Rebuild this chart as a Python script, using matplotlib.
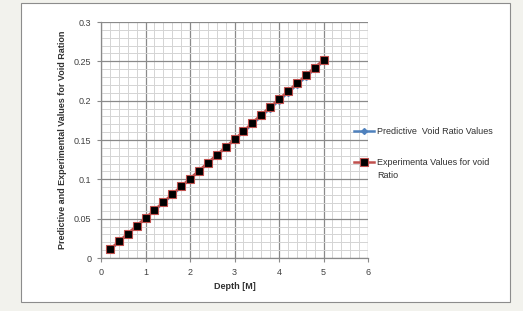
import matplotlib
matplotlib.use('Agg')
import matplotlib.pyplot as plt
from matplotlib.patches import Rectangle
from matplotlib.ticker import MultipleLocator

plt.rcParams['font.family'] = ['Liberation Sans', 'DejaVu Sans']

# depth values (m)
depth = [0.2, 0.4, 0.6, 0.8, 1.0, 1.2, 1.4, 1.6, 1.8, 2.0, 2.2, 2.4, 2.6,
         2.8, 3.0, 3.2, 3.4, 3.6, 3.8, 4.0, 4.2, 4.4, 4.6, 4.8, 5.0]
# predictive void ratio values
predictive = [0.010, 0.020, 0.030, 0.040, 0.050, 0.060, 0.070, 0.080, 0.090,
              0.100, 0.110, 0.120, 0.130, 0.140, 0.150, 0.160, 0.170, 0.180,
              0.190, 0.200, 0.210, 0.220, 0.230, 0.240, 0.250]
# experimental void ratio values
experimental = [0.011, 0.021, 0.031, 0.041, 0.051, 0.061, 0.071, 0.081, 0.091,
                0.101, 0.111, 0.121, 0.131, 0.141, 0.151, 0.161, 0.172, 0.182,
                0.192, 0.202, 0.212, 0.222, 0.232, 0.242, 0.252]

fig = plt.figure(figsize=(5.23, 3.11), dpi=100, facecolor='#f2f2ed')

# white chart area with border
fig.patches.append(Rectangle((21/523, 1 - 302/311), 489/523, 299/311,
                             transform=fig.transFigure, facecolor='white',
                             edgecolor='#8c8c8c', linewidth=0.8, zorder=-1))

ax = fig.add_axes([101/523, 1 - 258/311, 267/523, 236/311])
ax.set_zorder(2)
ax.set_xlim(0, 6)
ax.set_ylim(0, 0.3)

ax.xaxis.set_major_locator(MultipleLocator(1))
ax.xaxis.set_minor_locator(MultipleLocator(0.2))
ax.yaxis.set_major_locator(MultipleLocator(0.05))
ax.yaxis.set_minor_locator(MultipleLocator(0.01))
ax.grid(which='major', color='#8a8a8a', linewidth=0.9)
ax.grid(which='minor', color='#d4d4d4', linewidth=0.7)
ax.set_axisbelow(True)

for s in ['top', 'right']:
    ax.spines[s].set_visible(False)
for s in ['left', 'bottom']:
    ax.spines[s].set_color('#8a8a8a')
    ax.spines[s].set_linewidth(0.9)

ax.tick_params(which='major', length=3, color='#8a8a8a', labelsize=6.5,
               labelcolor='#404040', pad=4)
ax.tick_params(which='minor', length=0)
ax.set_yticks([0, 0.05, 0.1, 0.15, 0.2, 0.25, 0.3])
ax.set_yticklabels(['0', '0.05', '0.1', '0.15', '0.2', '0.25', '0.3'])

ax.plot(depth, predictive, color='#4f81bd', linewidth=1.8, marker='D',
        markersize=3, label='Predictive  Void Ratio Values')
ax.plot(depth, experimental, color='#c0504d', linewidth=1.8, marker='s',
        markersize=5.5, markerfacecolor='black', markeredgecolor='#c0504d',
        markeredgewidth=0.8, label='Experimenta Values for void')

ax.set_xlabel('Depth [M]', fontsize=6.5, fontweight='bold', color='#303030',
              labelpad=4)
ax.set_ylabel('Predictive and Experimental Values for Void Ration', fontsize=6.5,
              fontweight='bold', color='#303030', labelpad=5)

# legend: second label wraps onto a second line in the original
fig.legend(loc='upper left', bbox_to_anchor=(346/523, 1 - 119/311),
           frameon=False, fontsize=6.5, handlelength=2.2, handletextpad=0.3,
           labelspacing=2.45, labelcolor='#303030')
fig.text(377/523, 1 - 175/311, 'Ratio', fontsize=6.5, color='#303030',
         va='center', ha='left')

fig.savefig('out.png', dpi=100, facecolor=fig.get_facecolor())
